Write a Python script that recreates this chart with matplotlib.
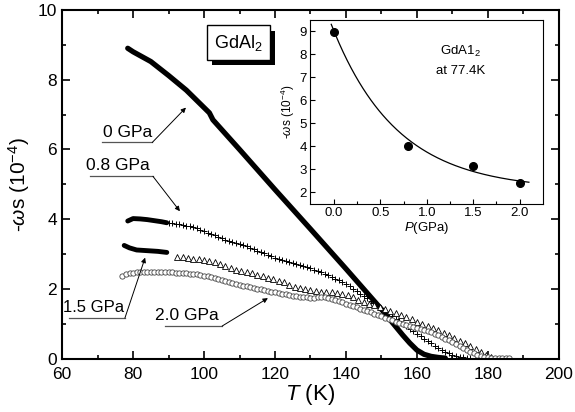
import numpy as np
import matplotlib
matplotlib.use('Agg')
import matplotlib.pyplot as plt
from matplotlib import patheffects as pe

plt.rcParams['font.family'] = ['Liberation Sans', 'DejaVu Sans']
plt.rcParams['mathtext.fontset'] = 'custom'
plt.rcParams['mathtext.rm'] = 'Liberation Sans'
plt.rcParams['mathtext.it'] = 'Liberation Sans:italic'

# 0 GPa: thick solid trace
t_0 = [78.5, 80, 85, 90, 95, 100, 101.5, 102.5, 110, 120, 130, 140, 150,
       153, 156, 158, 160, 162, 164, 166, 168]
w_0 = [8.9, 8.8, 8.52, 8.12, 7.7, 7.2, 7.05, 6.85, 6.0, 4.85, 3.72, 2.58, 1.42,
       1.05, 0.68, 0.45, 0.25, 0.13, 0.07, 0.04, 0.02]

# 0.8 GPa: dense start, then crosses
t_08_dense = [78.5, 80, 82, 84, 86, 88, 89.5]
w_08_dense = [3.95, 4.02, 4.01, 3.99, 3.96, 3.93, 3.9]
t_08 = np.arange(90, 176, 1)
w_08 = [3.90, 3.89, 3.87, 3.86, 3.84, 3.82, 3.80, 3.77, 3.74, 3.70, 3.66,
        3.62, 3.58, 3.54, 3.50, 3.46, 3.42, 3.39, 3.36, 3.33, 3.30,
        3.26, 3.22, 3.18, 3.14, 3.10, 3.06, 3.02, 2.98, 2.94, 2.90,
        2.87, 2.84, 2.81, 2.78, 2.75, 2.72, 2.69, 2.66, 2.63, 2.60,
        2.56, 2.52, 2.48, 2.44, 2.40, 2.35, 2.30, 2.25, 2.20, 2.14,
        2.08, 2.01, 1.94, 1.87, 1.80, 1.73, 1.66, 1.59, 1.52, 1.45,
        1.38, 1.30, 1.23, 1.15, 1.08, 1.01, 0.94, 0.86, 0.79, 0.72,
        0.65, 0.58, 0.51, 0.44, 0.38, 0.32, 0.26, 0.21, 0.16, 0.12,
        0.09, 0.06, 0.04, 0.03, 0.02]

# 1.5 GPa: dense start, then triangles
t_15_dense = [77.5, 79, 81, 84, 87, 89.5]
w_15_dense = [3.25, 3.18, 3.12, 3.10, 3.08, 3.05]
t_15 = np.arange(92.5, 181.5, 1.5)
w_15 = [2.92, 2.91, 2.89, 2.87, 2.85, 2.83, 2.80, 2.77, 2.73, 2.67,
        2.61, 2.56, 2.52, 2.49, 2.45, 2.41, 2.37, 2.32, 2.28, 2.24,
        2.19, 2.13, 2.07, 2.03, 1.99, 1.96, 1.94, 1.93, 1.92, 1.91,
        1.90, 1.87, 1.82, 1.76, 1.70, 1.64, 1.58, 1.53, 1.48, 1.43,
        1.38, 1.32, 1.26, 1.20, 1.13, 1.07, 1.01, 0.95, 0.89, 0.82,
        0.75, 0.67, 0.60, 0.52, 0.45, 0.37, 0.28, 0.20, 0.11, 0.04]

# 2.0 GPa: circles
t_20 = np.arange(77, 187, 1)
w_20 = [2.37, 2.42, 2.45, 2.47, 2.48, 2.49, 2.50, 2.50, 2.50, 2.50,
        2.50, 2.49, 2.49, 2.49, 2.48, 2.47, 2.46, 2.45, 2.45, 2.44,
        2.43, 2.42, 2.40, 2.38, 2.36, 2.34, 2.32, 2.29, 2.26, 2.22,
        2.19, 2.16, 2.14, 2.12, 2.10, 2.08, 2.06, 2.04, 2.01, 1.99,
        1.97, 1.95, 1.93, 1.91, 1.89, 1.87, 1.85, 1.83, 1.81, 1.80,
        1.78, 1.77, 1.76, 1.75, 1.75, 1.77, 1.78, 1.77, 1.74, 1.71,
        1.68, 1.65, 1.62, 1.58, 1.55, 1.51, 1.48, 1.44, 1.40, 1.37,
        1.33, 1.29, 1.26, 1.22, 1.18, 1.14, 1.10, 1.06, 1.02, 0.99,
        0.96, 0.93, 0.91, 0.88, 0.85, 0.82, 0.79, 0.76, 0.72, 0.67,
        0.63, 0.58, 0.53, 0.48, 0.43, 0.38, 0.32, 0.26, 0.21, 0.16,
        0.12, 0.08, 0.06, 0.04, 0.03, 0.03, 0.03, 0.03, 0.02, 0.02]

# inset: value at 77.4 K vs pressure, with exponential fit
p_gpa = [0.0, 0.8, 1.5, 2.0]
w_774 = [8.95, 4.02, 3.15, 2.42]
fit_amp, fit_decay, fit_off = 6.9, 0.7, 2.1

fig = plt.figure(figsize=(5.75, 4.12), dpi=100)
ax = fig.add_axes([0.108, 0.129, 0.864, 0.847])

ax.plot(t_0, w_0, color='black', lw=3.8, solid_capstyle='round')
ax.plot(t_08_dense, w_08_dense, color='black', lw=3.5, solid_capstyle='round')
ax.plot(t_08, w_08, ls='none', marker='+', ms=5, mew=0.7, color='black')
ax.plot(t_15_dense, w_15_dense, color='black', lw=3.5, solid_capstyle='round')
ax.plot(t_15, w_15, ls='none', marker='^', ms=5, mew=0.6, mfc='white', mec='black')
ax.plot(t_20, w_20, ls='none', marker='o', ms=3.8, mew=0.6, mfc='white', mec='#444444')

ax.set_xlim(60, 200)
ax.set_ylim(0, 10)
ax.set_xticks(range(60, 201, 20))
ax.set_xticks(range(60, 201, 10), minor=True)
ax.set_yticks(range(0, 11, 2))
ax.set_yticks(range(0, 11, 1), minor=True)
ax.tick_params(which='both', direction='in', top=True, right=True, labelsize=12.5, width=1.2)
ax.tick_params(which='major', length=6)
ax.tick_params(which='minor', length=3)
ax.tick_params(axis='x', pad=6)
for s in ax.spines.values():
    s.set_linewidth(1.5)
ax.set_xlabel(r'$\mathit{T}$ (K)', fontsize=16, labelpad=0)
ax.set_ylabel(r'-$\omega$s (10$^{-4}$)', fontsize=15, labelpad=4)

# pressure labels with underline and arrow
labels = [('0 GPa', 78.6, 6.5, 71.3, 85.4, 6.2, 94.9, 7.2, 12.5),
          ('0.8 GPa', 75.8, 5.55, 67.9, 85.6, 5.23, 93.2, 4.23, 12.5),
          ('1.5 GPa', 69.0, 1.48, 62.0, 77.7, 1.17, 83.4, 2.9, 12),
          ('2.0 GPa', 95.2, 1.25, 89.0, 105.1, 0.94, 118.0, 1.74, 12.5)]
for txt, tx, ty, ux0, ux1, uy, ax_, ay_, fs in labels:
    ax.text(tx, ty, txt, fontsize=fs, ha='center', va='center')
    ax.plot([ux0, ux1], [uy, uy], color='#555555', lw=0.9)
    ax.annotate('', xy=(ax_, ay_), xytext=(ux1, uy),
                arrowprops=dict(arrowstyle='-|>', color='black', lw=0.7,
                                mutation_scale=7, shrinkA=0, shrinkB=0))

box = ax.text(109.6, 9.06, r'GdAl$_2$', fontsize=13, ha='center', va='center',
              bbox=dict(boxstyle='square,pad=0.4', fc='white', ec='black', lw=1.0))
box.get_bbox_patch().set_path_effects([
    pe.SimplePatchShadow(offset=(4, -4), shadow_rgbFace='black', alpha=1.0),
    pe.Normal()])

# inset
ins = fig.add_axes([0.539, 0.505, 0.405, 0.447])
pf = np.linspace(-0.03, 2.1, 200)
ins.plot(pf, fit_off + fit_amp * np.exp(-pf / fit_decay), color='black', lw=0.9)
ins.plot(p_gpa, w_774, ls='none', marker='o', ms=5.5, color='black')
ins.set_xlim(-0.26, 2.25)
ins.set_ylim(1.5, 9.5)
ins.set_xticks([0.0, 0.5, 1.0, 1.5, 2.0])
ins.set_xticklabels(['0.0', '0.5', '1.0', '1.5', '2.0'])
ins.set_xticks(np.arange(0, 2.01, 0.25), minor=True)
ins.set_yticks(range(2, 10))
ins.tick_params(which='both', direction='in', labelsize=9.5, width=0.8, pad=2)
ins.tick_params(which='major', length=3.5)
ins.tick_params(which='minor', length=2)
for s in ins.spines.values():
    s.set_linewidth(0.8)
ins.set_xlabel(r'$\mathit{P}$(GPa)', fontsize=9.5, labelpad=1)
ins.set_ylabel(r'-$\omega$s (10$^{-4}$)', fontsize=8.5, labelpad=2)
ins.text(1.36, 8.13, 'GdA1$_2$', fontsize=9.5, ha='center', va='center')
ins.text(1.36, 7.26, 'at 77.4K', fontsize=9.5, ha='center', va='center')

fig.savefig('out.png', dpi=100)
